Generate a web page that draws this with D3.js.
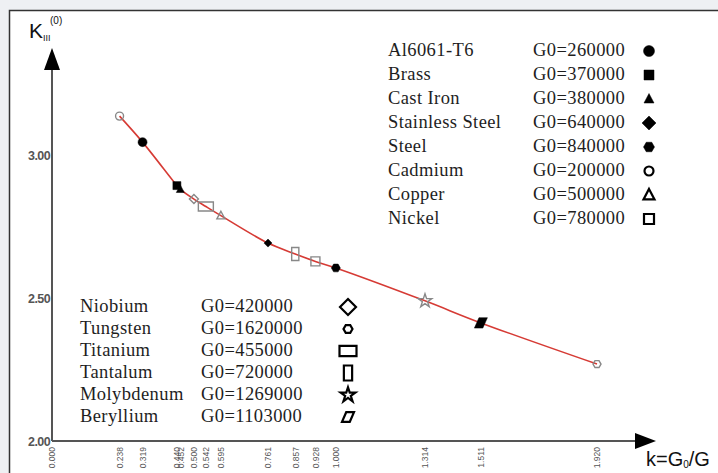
<!DOCTYPE html>
<html>
<head>
<meta charset="utf-8">
<script src="https://cdn.jsdelivr.net/npm/d3@7"></script>
<style>
  html, body { margin: 0; padding: 0; background: #eef0f3; }
  svg { display: block; }
  .legend text { font-family: "Liberation Serif", "Times New Roman", serif; font-size: 18.5px; letter-spacing: 0.4px; fill: #1e1e1e; }
  .tick text { fill: #555; font-family: "Liberation Sans", Arial, sans-serif; }
</style>
</head>
<body>
<svg id="chart" width="718" height="473"></svg>
<script>
// k = G0/G values, and K_III^(0), one per material
const materials = ['Cadmium', 'Al6061-T6', 'Brass', 'Cast Iron', 'Niobium', 'Titanium', 'Copper',
                   'Stainless Steel', 'Tantalum', 'Nickel', 'Steel', 'Molybdenum', 'Beryllium', 'Tungsten'];
const kValues = [0.238, 0.319, 0.440, 0.452, 0.500, 0.542, 0.595, 0.761, 0.857, 0.928, 1.000, 1.314, 1.511, 1.920];
const KValues = [3.136, 3.045, 2.893, 2.880, 2.846, 2.820, 2.788, 2.692, 2.654, 2.628, 2.605, 2.490, 2.413, 2.269];

const xTicks = [0.000, 0.238, 0.319, 0.440, 0.452, 0.500, 0.542, 0.595, 0.761, 0.857, 0.928, 1.000, 1.314, 1.511, 1.920];
const yTicks = [2.00, 2.50, 3.00];

// legend tables
const legendRight = ['Al6061-T6', 'Brass', 'Cast Iron', 'Stainless Steel', 'Steel', 'Cadmium', 'Copper', 'Nickel'];
const legendRightG0 = [260000, 370000, 380000, 640000, 840000, 200000, 500000, 780000];
const legendLeft = ['Niobium', 'Tungsten', 'Titanium', 'Tantalum', 'Molybdenum', 'Beryllium'];
const legendLeftG0 = [420000, 1620000, 455000, 720000, 1269000, 1103000];

// marker look per material: shape, filled on the curve?, size on curve, size in legend
const markerStyle = {
  'Al6061-T6':       { shape: 'circle',   fill: true,  s: 4.5, ls: 5.5 },
  'Brass':           { shape: 'square',   fill: true,  s: 4,   ls: 5 },
  'Cast Iron':       { shape: 'triangle', fill: true,  s: 4,   ls: 5 },
  'Stainless Steel': { shape: 'diamond',  fill: true,  s: 4,   ls: 7 },
  'Steel':           { shape: 'hexagon',  fill: true,  s: 4.5, ls: 5.5 },
  'Cadmium':         { shape: 'circle',   fill: false, s: 4,   ls: 4.5 },
  'Copper':          { shape: 'triangle', fill: false, s: 4,   ls: 5.5 },
  'Nickel':          { shape: 'square',   fill: false, s: 4.5, ls: 5 },
  'Niobium':         { shape: 'diamond',  fill: false, s: 4.5, ls: 8 },
  'Tungsten':        { shape: 'hexagon',  fill: false, s: 4,   ls: 4.5 },
  'Titanium':        { shape: 'rectWide', fill: false, s: 7.5, ls: 8.5 },
  'Tantalum':        { shape: 'rectTall', fill: false, s: 6.5, ls: 7.5 },
  'Molybdenum':      { shape: 'star',     fill: false, s: 6,   ls: 6.5 },
  'Beryllium':       { shape: 'para',     fill: true,  s: 6.5, ls: 6 },
};

function polygon(pts) {
  return 'M' + pts.map(p => p[0].toFixed(2) + ',' + p[1].toFixed(2)).join('L') + 'Z';
}

function markerPath(shape, s) {
  switch (shape) {
    case 'circle': return d3.symbol(d3.symbolCircle, Math.PI * s * s)();
    case 'square': return polygon([[-s, -s], [s, -s], [s, s], [-s, s]]);
    case 'triangle': return polygon([[0, -s * 1.1], [s, s * 0.8], [-s, s * 0.8]]);
    case 'diamond': return polygon([[0, -s], [s, 0], [0, s], [-s, 0]]);
    case 'hexagon': return polygon(d3.range(6).map(i => [s * Math.cos(i * Math.PI / 3), s * Math.sin(i * Math.PI / 3)]));
    case 'rectWide': return polygon([[-s, -s * 0.6], [s, -s * 0.6], [s, s * 0.6], [-s, s * 0.6]]);
    case 'rectTall': return polygon([[-s * 0.55, -s], [s * 0.55, -s], [s * 0.55, s], [-s * 0.55, s]]);
    case 'star': return d3.symbol(d3.symbolStar, s * s * 1.6)();
    case 'para': return polygon([[-s * 0.3, -s * 0.8], [s, -s * 0.8], [s * 0.3, s * 0.8], [-s, s * 0.8]]);
  }
}

const svg = d3.select('#chart');

// frame
svg.append('rect')
  .attr('x', 9.5).attr('y', 10.5).attr('width', 740).attr('height', 500)
  .attr('fill', '#fff').attr('stroke', '#333').attr('stroke-width', 1.5);

const x = d3.scaleLinear().domain([0, 1.92]).range([52, 597]);
const y = d3.scaleLinear().domain([2, 3]).range([441, 155]);

const x0 = x(0), yBase = y(2);

// x axis with rotated tick labels
const xAxis = svg.append('g')
  .attr('transform', `translate(0,${yBase})`)
  .call(d3.axisBottom(x).tickValues(xTicks).tickSize(0).tickFormat(d3.format('.3f')));
xAxis.select('.domain').remove();
xAxis.selectAll('text')
  .attr('transform', 'rotate(-90)')
  .attr('text-anchor', 'end')
  .attr('x', -6).attr('y', 0).attr('dy', '0.35em')
  .style('font-size', '8.5px');

// y axis labels
const yAxis = svg.append('g')
  .attr('transform', `translate(${x0},0)`)
  .call(d3.axisLeft(y).tickValues(yTicks).tickSize(0).tickFormat(d3.format('.2f')));
yAxis.select('.domain').remove();
yAxis.selectAll('text')
  .attr('x', -2)
  .style('font-size', '12.5px').style('font-weight', 'bold').style('letter-spacing', '-0.6px');

// axis lines with arrows
svg.append('line').attr('x1', x0).attr('x2', 640).attr('y1', yBase).attr('y2', yBase)
  .attr('stroke', '#555').attr('stroke-width', 2);
svg.append('path').attr('d', polygon([[635, yBase - 8], [656, yBase], [635, yBase + 8]])).attr('fill', '#000');
svg.append('line').attr('x1', x0).attr('x2', x0).attr('y1', yBase).attr('y2', 66)
  .attr('stroke', '#555').attr('stroke-width', 2);
svg.append('path').attr('d', polygon([[x0 - 8, 70], [x0, 48], [x0 + 8, 70]])).attr('fill', '#000');

// axis titles
const yTitle = svg.append('text').attr('x', 29).attr('y', 38)
  .style('font-family', '"Liberation Sans", Arial, sans-serif').style('font-size', '21px').attr('fill', '#111');
yTitle.append('tspan').text('K');
yTitle.append('tspan').attr('dy', 3).style('font-size', '9px').text('III');
svg.append('text').attr('x', 50).attr('y', 24)
  .style('font-family', '"Liberation Sans", Arial, sans-serif').style('font-size', '10px').attr('fill', '#111')
  .text('(0)');

const xTitle = svg.append('text').attr('x', 646).attr('y', 466)
  .style('font-family', '"Liberation Sans", Arial, sans-serif').style('font-size', '20px').attr('fill', '#111');
xTitle.append('tspan').text('k=G');
xTitle.append('tspan').style('font-size', '10px').attr('dy', 2).text('0');
xTitle.append('tspan').attr('dy', -2).text('/G');

// curve
const pts = kValues.map((k, i) => ({ k, K: KValues[i], name: materials[i] }));
svg.append('path')
  .datum(pts)
  .attr('fill', 'none').attr('stroke', '#d63b35').attr('stroke-width', 1.6)
  .attr('d', d3.line().x(d => x(d.k)).y(d => y(d.K)).curve(d3.curveCatmullRom.alpha(0.5)));

svg.append('g').selectAll('path')
  .data(pts)
  .join('path')
  .attr('transform', d => `translate(${x(d.k)},${y(d.K)})`)
  .attr('d', d => markerPath(markerStyle[d.name].shape, markerStyle[d.name].s))
  .attr('fill', d => markerStyle[d.name].fill ? '#000' : 'none')
  .attr('stroke', d => markerStyle[d.name].fill ? '#000' : '#888')
  .attr('stroke-width', d => markerStyle[d.name].fill ? 0.5 : 1.4);

// legends
function drawLegend(names, g0s, nameX, valX, markX, y0, dy) {
  const g = svg.append('g').attr('class', 'legend');
  const rows = g.selectAll('g').data(names).join('g')
    .attr('transform', (d, i) => `translate(0,${y0 + i * dy})`);
  rows.append('text').attr('x', nameX).text(d => d);
  rows.append('text').attr('x', valX).text((d, i) => 'G0=' + g0s[i]);
  rows.append('path')
    .attr('transform', `translate(${markX},-5)`)
    .attr('d', d => markerPath(markerStyle[d].shape, markerStyle[d].ls))
    .attr('fill', d => (markerStyle[d].fill && legendRight.includes(d)) ? '#000' : 'none')
    .attr('stroke', '#000')
    .attr('stroke-width', d => (markerStyle[d].fill && legendRight.includes(d)) ? 0.5 : 2.2);
}
drawLegend(legendRight, legendRightG0, 388, 533, 649, 56, 24);
drawLegend(legendLeft, legendLeftG0, 80, 201, 348, 312, 22);
</script>
</body>
</html>
